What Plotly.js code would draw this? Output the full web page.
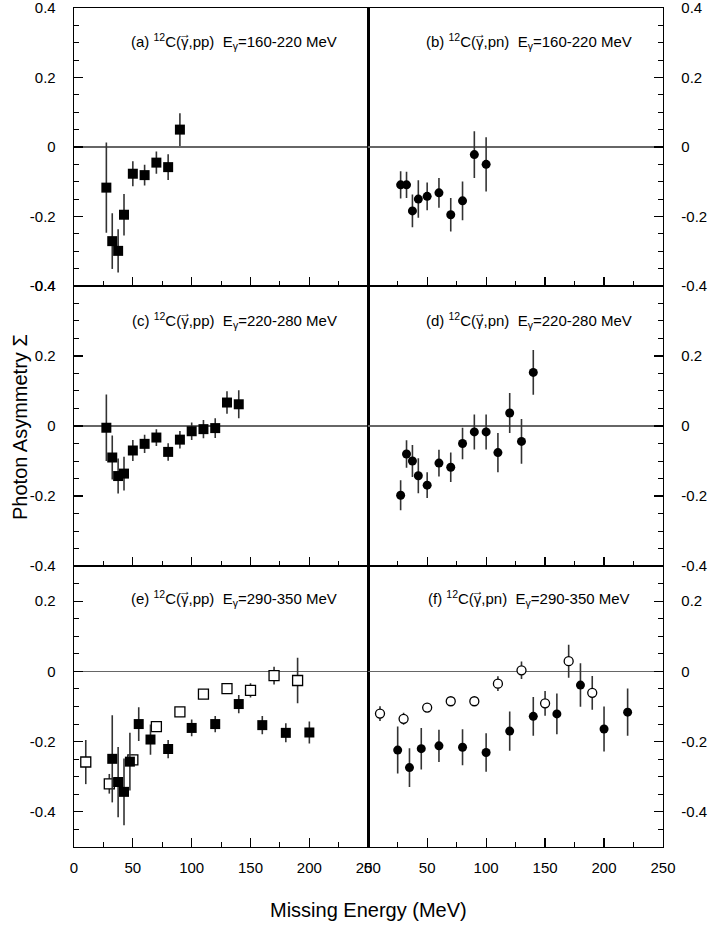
<!DOCTYPE html>
<html>
<head>
<meta charset="utf-8">
<script src="https://cdn.plot.ly/plotly-3.0.1.min.js"></script>
<style>html,body{margin:0;padding:0;background:#fff;}#chart{width:712px;height:927px;}</style>
</head>
<body>
<div id="chart"></div>
<script>
// Panel (a): 12C(g,pp) 160-220 MeV
const a_x = [27.5, 32.5, 37.5, 42.5, 50, 60, 70, 80, 90];
const a_y = [-0.117, -0.271, -0.299, -0.195, -0.077, -0.081, -0.045, -0.058, 0.050];
const a_err = [0.130, 0.080, 0.062, 0.060, 0.036, 0.030, 0.032, 0.037, 0.047];

// Panel (b): 12C(g,pn) 160-220 MeV
const b_x = [27.5, 32.5, 37.5, 42.5, 50, 60, 70, 80, 90, 100];
const b_y = [-0.109, -0.109, -0.184, -0.150, -0.142, -0.132, -0.195, -0.155, -0.022, -0.050];
const b_err = [0.039, 0.038, 0.047, 0.054, 0.040, 0.043, 0.048, 0.056, 0.067, 0.078];

// Panel (c): 12C(g,pp) 220-280 MeV
const c_x = [27.5, 32.5, 37.5, 42.5, 50, 60, 70, 80, 90, 100, 110, 120, 130, 140];
const c_y = [-0.005, -0.090, -0.143, -0.136, -0.070, -0.051, -0.033, -0.074, -0.039, -0.015, -0.009, -0.006, 0.067, 0.062];
const c_err = [0.095, 0.063, 0.050, 0.048, 0.030, 0.026, 0.024, 0.025, 0.025, 0.025, 0.026, 0.028, 0.032, 0.040];

// Panel (d): 12C(g,pn) 220-280 MeV
const d_x = [27.5, 32.5, 37.5, 42.5, 50, 60, 70, 80, 90, 100, 110, 120, 130, 140];
const d_y = [-0.198, -0.080, -0.100, -0.142, -0.169, -0.106, -0.118, -0.050, -0.017, -0.017, -0.076, 0.037, -0.044, 0.153];
const d_err = [0.043, 0.039, 0.046, 0.050, 0.037, 0.038, 0.042, 0.045, 0.050, 0.050, 0.056, 0.057, 0.064, 0.064];

// Panel (e): 12C(g,pp) 290-350 MeV (filled and open squares)
const e_fill_x = [32.5, 37.5, 42.5, 47.5, 55, 65, 80, 100, 120, 140, 160, 180, 200];
const e_fill_y = [-0.249, -0.315, -0.343, -0.257, -0.150, -0.194, -0.221, -0.161, -0.150, -0.093, -0.153, -0.175, -0.174];
const e_fill_err = [0.124, 0.100, 0.095, 0.082, 0.048, 0.043, 0.026, 0.024, 0.023, 0.026, 0.026, 0.027, 0.031];
const e_open_x = [10, 30, 50, 70, 90, 110, 130, 150, 170, 190];
const e_open_y = [-0.258, -0.320, -0.252, -0.157, -0.115, -0.065, -0.049, -0.054, -0.012, -0.026];
const e_open_err = [0.063, 0.028, 0.015, 0.012, 0.010, 0.010, 0.012, 0.020, 0.025, 0.065];

// Panel (f): 12C(g,pn) 290-350 MeV (filled and open circles)
const f_fill_x = [25, 35, 45, 60, 80, 100, 120, 140, 160, 180, 200, 220];
const f_fill_y = [-0.224, -0.274, -0.220, -0.212, -0.216, -0.231, -0.170, -0.128, -0.121, -0.039, -0.164, -0.116];
const f_fill_err = [0.067, 0.055, 0.059, 0.046, 0.051, 0.055, 0.056, 0.055, 0.058, 0.062, 0.064, 0.067];
const f_open_x = [10, 30, 50, 70, 90, 110, 130, 150, 170, 190];
const f_open_y = [-0.120, -0.135, -0.103, -0.085, -0.085, -0.035, 0.003, -0.091, 0.029, -0.061];
const f_open_err = [0.021, 0.017, 0.010, 0.010, 0.012, 0.021, 0.025, 0.035, 0.047, 0.048];

const panelIds = ['(a)', '(b)', '(c)', '(d)', '(e)', '(f)'];
const reactions = ['pp', 'pn', 'pp', 'pn', 'pp', 'pn'];
const energyBins = ['160-220', '160-220', '220-280', '220-280', '290-350', '290-350'];
const xTickVals = [0, 50, 100, 150, 200, 250];
const yTickVals = [-0.4, -0.2, 0, 0.2, 0.4];
const yTickText = ["-0.4", "-0.2", "0", "0.2", "0.4"];

const ERRC = '#333';
function tr(x, y, err, sym, fill, xa, ya) {
  return {
    type: 'scatter', mode: 'markers', x: x, y: y, xaxis: xa, yaxis: ya,
    error_y: {type: 'data', array: err, visible: true, color: ERRC, thickness: 1.6, width: 0},
    marker: {symbol: sym, size: sym.indexOf('square') >= 0 ? 10 : 9, color: fill,
             line: {color: '#000', width: fill === '#fff' ? 1.3 : 0}},
    showlegend: false, hoverinfo: 'skip', cliponaxis: false
  };
}

const data = [
  tr(a_x, a_y, a_err, 'square', '#000', 'x', 'y'),
  tr(b_x, b_y, b_err, 'circle', '#000', 'x2', 'y2'),
  tr(c_x, c_y, c_err, 'square', '#000', 'x3', 'y3'),
  tr(d_x, d_y, d_err, 'circle', '#000', 'x4', 'y4'),
  tr(e_open_x, e_open_y, e_open_err, 'square', '#fff', 'x5', 'y5'),
  tr(e_fill_x, e_fill_y, e_fill_err, 'square', '#000', 'x5', 'y5'),
  tr(f_open_x, f_open_y, f_open_err, 'circle', '#fff', 'x6', 'y6'),
  tr(f_fill_x, f_fill_y, f_fill_err, 'circle', '#000', 'x6', 'y6')
];

const FAM = 'Liberation Sans, Arial, sans-serif';
const TF = {family: FAM, size: 15, color: '#000'};
const rowDom = [[0.6687, 1], [0.3349, 0.6687], [0, 0.3349]];
const colDom = [[0, 0.4995], [0.4995, 1]];

function xax(col, row, anchor) {
  return {
    domain: colDom[col], anchor: anchor, range: [0, 250], autorange: false,
    showline: true, linecolor: '#000', linewidth: 1.3, mirror: true,
    ticks: 'inside', ticklen: 9, tickwidth: 1.2, tickcolor: '#000',
    tickmode: 'array', tickvals: xTickVals, ticktext: xTickVals.map(String),
    showticklabels: row === 2, tickfont: TF, ticklabelstandoff: 7,
    ticklabeloverflow: 'allow',
    minor: {dtick: 25, tick0: 0, ticks: 'inside', ticklen: 5, tickwidth: 1, tickcolor: '#000', showgrid: false},
    showgrid: false, zeroline: false, fixedrange: true
  };
}
function yax(col, row, anchor) {
  const rng = row === 2 ? [-0.5, 0.3] : [-0.4, 0.4];
  // on the right side the label at the top of the middle panel is not shown (it sits on -0.4 of the panel above)
  const txt = yTickText.map((t, k) => (col === 1 && row === 1 && yTickVals[k] === 0.4) ? '' : t);
  return {
    domain: rowDom[row], anchor: anchor, range: rng, autorange: false,
    side: col === 0 ? 'left' : 'right',
    showline: true, linecolor: '#000', linewidth: 1.3, mirror: true,
    ticks: 'inside', ticklen: 9, tickwidth: 1.2, tickcolor: '#000',
    tickmode: 'array', tickvals: yTickVals, ticktext: txt,
    tickfont: TF, ticklabelstandoff: 14, ticklabeloverflow: 'allow',
    minor: {tickmode: 'linear', dtick: 0.05, tick0: 0, ticks: 'inside', ticklen: 5, tickwidth: 1, tickcolor: '#000', showgrid: false},
    showgrid: false, zeroline: true, zerolinecolor: '#666', zerolinewidth: 1.2, fixedrange: true
  };
}

const layout = {
  width: 712, height: 927,
  margin: {l: 74, r: 49, t: 8, b: 80},
  paper_bgcolor: '#fff', plot_bgcolor: '#fff',
  showlegend: false,
  xaxis: xax(0, 0, 'y'), yaxis: yax(0, 0, 'x'),
  xaxis2: xax(1, 0, 'y2'), yaxis2: yax(1, 0, 'x2'),
  xaxis3: xax(0, 1, 'y3'), yaxis3: yax(0, 1, 'x3'),
  xaxis4: xax(1, 1, 'y4'), yaxis4: yax(1, 1, 'x4'),
  xaxis5: xax(0, 2, 'y5'), yaxis5: yax(0, 2, 'x5'),
  xaxis6: xax(1, 2, 'y6'), yaxis6: yax(1, 2, 'x6'),
  annotations: []
};

const HID = '<span style="color:rgba(0,0,0,0)">';
const axNames = ['', '2', '3', '4', '5', '6'];
panelIds.forEach((id, i) => {
  const pre = id + ' <sup>12</sup>C(';
  const post = ',' + reactions[i] + ')  E<sub>γ</sub>=' + energyBins[i] + ' MeV';
  const base = {
    xref: 'x' + axNames[i] + ' domain', yref: 'y' + axNames[i] + ' domain',
    x: 0.544, y: i >= 4 ? 0.883 : 0.878, xanchor: 'center', yanchor: 'middle',
    showarrow: false, font: {family: FAM, size: 15, color: '#000'}
  };
  layout.annotations.push(Object.assign({}, base, {text: pre + 'γ' + post}));
  // vector arrow over the photon symbol
  layout.annotations.push(Object.assign({}, base, {
    text: HID + pre + '</span><span style="font-size:12px">→</span>' + HID + post + '</span>',
    yshift: 9, xshift: 0
  }));
});
layout.annotations.push({
  text: 'Missing Energy (MeV)', xref: 'paper', yref: 'paper', x: 0.5, y: -0.075,
  xanchor: 'center', yanchor: 'middle', showarrow: false,
  font: {family: FAM, size: 20, color: '#000'}
});
layout.annotations.push({
  text: 'Photon Asymmetry Σ', xref: 'paper', yref: 'paper', x: -0.0925, y: 0.5,
  xanchor: 'center', yanchor: 'middle', textangle: -90, showarrow: false,
  font: {family: FAM, size: 20, color: '#000'}
});

Plotly.newPlot('chart', data, layout, {displayModeBar: false, staticPlot: true});
</script>
</body>
</html>
